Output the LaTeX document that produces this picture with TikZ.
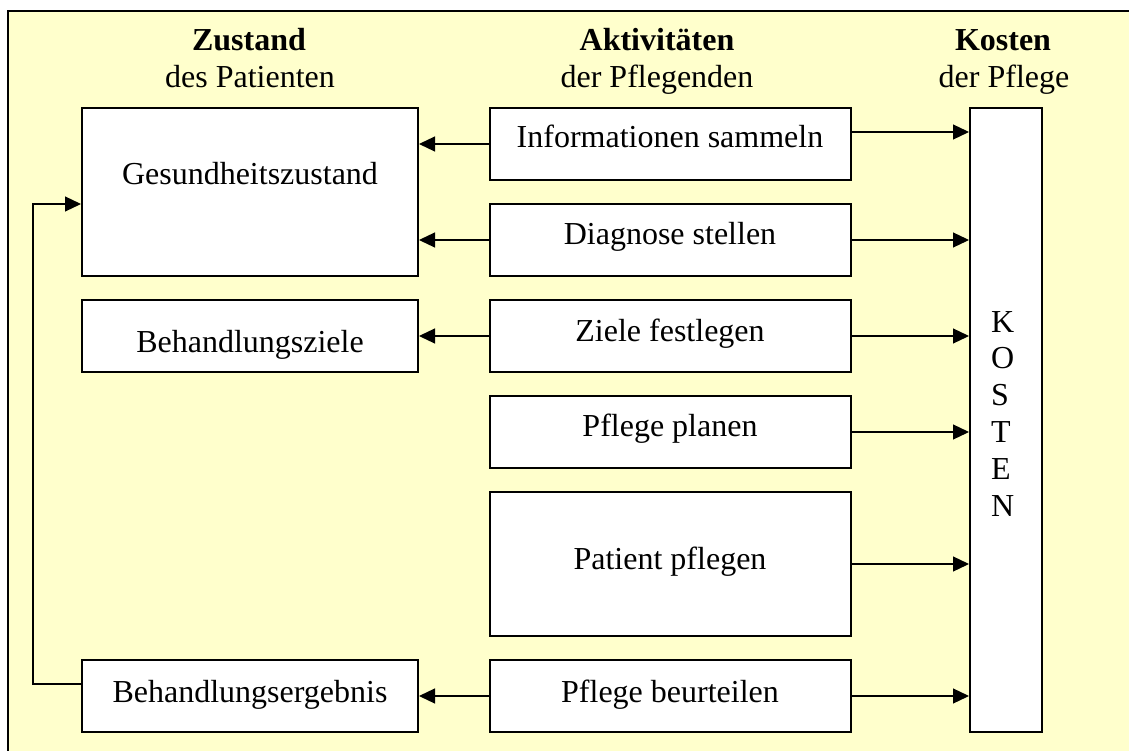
\documentclass[tikz,border=0pt]{standalone}
\usepackage{fontspec}
\setmainfont{Liberation Serif}
\usetikzlibrary{arrows.meta}
\definecolor{paper}{RGB}{255,255,204}

\begin{document}
\begin{tikzpicture}[x=1pt,y=-1pt,
  box/.style={draw=black, line width=2pt, fill=white, rectangle, inner sep=0pt},
  lbl/.style={anchor=base, inner sep=0pt, font=\fontsize{32}{38}\selectfont},
  head/.style={anchor=base, inner sep=0pt, font=\fontsize{32}{38}\selectfont\bfseries},
  arr/.style={line width=1.2pt, -{Triangle[length=16pt,width=15pt]}},
]
\clip (0,0) rectangle (1129,751);
\fill[white] (0,0) rectangle (1129,751);
\draw[line width=2pt, fill=paper] (8,11) rectangle (1140,765);

% column headings
\node[head] (h1) at (249,51) {Zustand};
\node[lbl]  (s1) at (250,88) {des Patienten};
\node[head] (h2) at (657,51) {Aktivitäten};
\node[lbl]  (s2) at (657,88) {der Pflegenden};
\node[head] (h3) at (1003,51) {Kosten};
\node[lbl]  (s3) at (1004,88) {der Pflege};

% state of the patient
\node[box, minimum width=336pt, minimum height=168pt] (gesund)   at (250,192) {};
\node[box, minimum width=336pt, minimum height=72pt]  (ziele)    at (250,336) {};
\node[box, minimum width=336pt, minimum height=72pt]  (ergebnis) at (250,696) {};
\node[lbl] (gesundT)   at (250,185) {Gesundheitszustand};
\node[lbl] (zieleT)    at (250,352) {Behandlungsziele};
\node[lbl] (ergebnisT) at (250,702) {Behandlungsergebnis};

% nursing activities
\node[box, minimum width=361pt, minimum height=72pt]  (info)   at (670.5,144) {};
\node[box, minimum width=361pt, minimum height=72pt]  (diag)   at (670.5,240) {};
\node[box, minimum width=361pt, minimum height=72pt]  (fest)   at (670.5,336) {};
\node[box, minimum width=361pt, minimum height=72pt]  (planen) at (670.5,432) {};
\node[box, minimum width=361pt, minimum height=144pt] (pfl)    at (670.5,564) {};
\node[box, minimum width=361pt, minimum height=72pt]  (beurt)  at (670.5,696) {};
\node[lbl] (infoT)   at (670,148) {Informationen sammeln};
\node[lbl] (diagT)   at (670,245) {Diagnose stellen};
\node[lbl] (festT)   at (670,341) {Ziele festlegen};
\node[lbl] (planenT) at (670,436) {Pflege planen};
\node[lbl] (pflT)    at (670,569) {Patient pflegen};
\node[lbl] (beurtT)  at (670,702) {Pflege beurteilen};

% cost column
\node[box, minimum width=72pt, minimum height=624pt] (kosten) at (1006,420) {};
\foreach \ch [count=\i from 0] in {K,O,S,T,E,N}
  \node[anchor=base west, inner sep=0pt, font=\fontsize{32}{38}\selectfont] (k\i) at (991,332+36.9*\i) {\ch};

% activities act on the patient's state
\draw[arr] (info.west)  -- (info.west -| gesund.east);
\draw[arr] (diag.west)  -- (diag.west -| gesund.east);
\draw[arr] (fest.west)  -- (fest.west -| ziele.east);
\draw[arr] (beurt.west) -- (beurt.west -| ergebnis.east);

% activities cause costs
\draw[arr] ([yshift=12pt]info.east) -- ([yshift=12pt]info.east -| kosten.west);
\draw[arr] (diag.east)   -- (diag.east -| kosten.west);
\draw[arr] (fest.east)   -- (fest.east -| kosten.west);
\draw[arr] (planen.east) -- (planen.east -| kosten.west);
\draw[arr] (pfl.east)    -- (pfl.east -| kosten.west);
\draw[arr] (beurt.east)  -- (beurt.east -| kosten.west);

% outcome feeds back into the state of health
\draw[arr] ([yshift=12pt]ergebnis.west) -- ++(-48,0) |- ([yshift=-12pt]gesund.west);
\end{tikzpicture}
\end{document}
